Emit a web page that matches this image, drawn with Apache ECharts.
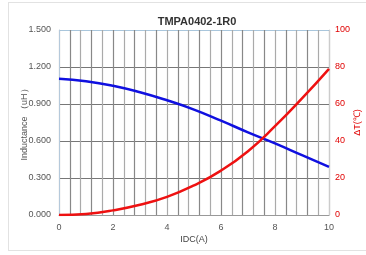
<!DOCTYPE html>
<html>
<head>
<meta charset="utf-8">
<script src="https://cdn.jsdelivr.net/npm/echarts@6/dist/echarts.min.js"></script>
<style>
  html, body { margin: 0; padding: 0; background: #fff; overflow: hidden; width: 366px; height: 255px; }
  #frame { position: absolute; left: 8px; top: 2px; width: 365px; height: 249px; border: 1px solid #e2e2e2; box-sizing: border-box; }
  #main { position: absolute; left: 0; top: 0; width: 366px; height: 255px; }
</style>
</head>
<body>
<div id="frame"></div>
<div id="main"></div>
<script>
// 电流 (A)
var idc = [0, 1, 2, 3, 4, 5, 6, 7, 8, 9, 10];
// 电感 (uH)
var inductance = [1.105, 1.085, 1.048, 0.995, 0.93, 0.855, 0.765, 0.67, 0.58, 0.485, 0.39];
// 温升 (℃)
var tempRise = [0, 0.6, 2.5, 5.5, 9.8, 16, 24, 34.5, 48, 63, 79];

var myChart = echarts.init(document.getElementById('main'));
var font = 'Liberation Sans, Arial, sans-serif';

function pairs(ys) {
    return idc.map(function (x, i) { return [x, ys[i]]; });
}

option = {
    animation: false,
    textStyle: { fontFamily: font },
    title: {
        text: 'TMPA0402-1R0',
        left: 192,
        top: 11,
        textAlign: 'center',
        textStyle: { fontSize: 11, fontWeight: 'bold', color: '#333', fontFamily: font }
    },
    grid: { left: 59, right: 37, top: 30, bottom: 40, outerBoundsMode: 'none', containLabel: false },
    xAxis: {
        type: 'value',
        min: 0, max: 10, interval: 0.4,
        name: 'IDC(A)',
        nameLocation: 'middle',
        nameMoveOverlap: false,
        nameGap: 20,
        nameTextStyle: { fontSize: 9, color: '#444' },
        axisLine: { lineStyle: { color: '#999' } },
        axisTick: { show: false },
        axisLabel: {
            fontSize: 9, color: '#555', margin: 8,
            formatter: function (v) {
                var k = v / 2;
                return Math.abs(k - Math.round(k)) < 1e-6 ? String(Math.round(v)) : '';
            }
        },
        splitLine: { show: true, lineStyle: { color: ['#aaa', '#888'], width: 1.2 } }
    },
    yAxis: [{
        type: 'value',
        min: 0, max: 1.5, interval: 0.3,
        name: 'Inductance （uH）',
        nameLocation: 'middle',
        nameMoveOverlap: false,
        nameGap: 30,
        nameTextStyle: { fontSize: 9, color: '#555' },
        axisLine: { show: true, lineStyle: { color: '#b5c9db' } },
        axisTick: { show: false },
        axisLabel: { fontSize: 9, color: '#555', formatter: function (v) { return v.toFixed(3); } },
        splitLine: { lineStyle: { color: ['#777', '#777', '#777', '#777', '#777', '#a9c6dc'] } }
    }, {
        type: 'value',
        min: 0, max: 100, interval: 20,
        name: 'ΔT(℃)',
        nameLocation: 'middle',
        nameMoveOverlap: false,
        nameRotate: 90,
        nameGap: 24,
        nameTextStyle: { fontSize: 9, color: '#e00000' },
        axisLine: { show: true, lineStyle: { color: '#ccc' } },
        axisTick: { show: false },
        axisLabel: { fontSize: 9, color: '#e00000', margin: 6 },
        splitLine: { show: false }
    }],
    series: [{
        name: 'Inductance',
        type: 'line',
        yAxisIndex: 0,
        smooth: true,
        symbol: 'none',
        lineStyle: { color: '#1010e0', width: 2.5 },
        data: pairs(inductance)
    }, {
        name: 'ΔT',
        type: 'line',
        yAxisIndex: 1,
        smooth: true,
        symbol: 'none',
        lineStyle: { color: '#ee1111', width: 2.5 },
        data: pairs(tempRise)
    }]
};
myChart.setOption(option);
</script>
</body>
</html>
